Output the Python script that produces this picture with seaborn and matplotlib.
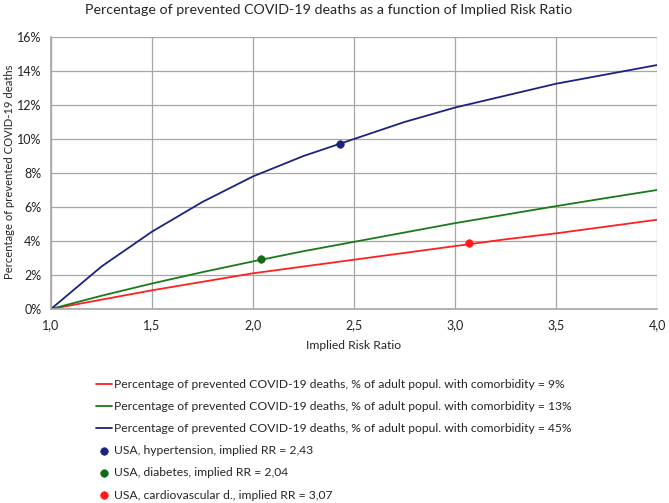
import matplotlib
matplotlib.use("Agg")
import matplotlib.pyplot as plt
import seaborn as sns
import pandas as pd
from matplotlib.ticker import FuncFormatter, MultipleLocator

# Data
rr = [1.0, 1.25, 1.5, 1.75, 2.0, 2.25, 2.5, 2.75, 3.0, 3.25, 3.5, 3.75, 4.0]
pct_9 = [0.0, 0.55, 1.1, 1.6, 2.1, 2.5, 2.9, 3.3, 3.7, 4.1, 4.45, 4.85, 5.25]
pct_13 = [0.0, 0.78, 1.5, 2.17, 2.8, 3.4, 3.95, 4.5, 5.05, 5.55, 6.05, 6.53, 7.0]
pct_45 = [0.0, 2.5, 4.55, 6.3, 7.8, 9.0, 10.0, 11.0, 11.85, 12.55, 13.25, 13.8, 14.35]

line_labels = [
    "Percentage of prevented COVID-19 deaths, % of adult popul. with comorbidity = 9%",
    "Percentage of prevented COVID-19 deaths, % of adult popul. with comorbidity = 13%",
    "Percentage of prevented COVID-19 deaths, % of adult popul. with comorbidity = 45%",
]
line_colors = ["#ff2020", "#1a7a1a", "#1a237e"]

point_labels = [
    "USA, hypertension, implied RR = 2,43",
    "USA, diabetes, implied RR = 2,04",
    "USA, cardiovascular d., implied RR = 3,07",
]
point_rr = [2.43, 2.04, 3.07]
point_pct = [9.7, 2.95, 3.9]
point_colors = ["#1a237e", "#0f6b1a", "#ff1a1a"]

sns.set_style("white")
plt.rcParams['font.family'] = ['Lato', 'DejaVu Sans']

fig = plt.figure(figsize=(6.69, 5.03), dpi=100)
ax = fig.add_axes([51/669, 1-309/503, (657-51)/669, (309-37)/503])

for vals, lab, col in zip([pct_9, pct_13, pct_45], line_labels, line_colors):
    df = pd.DataFrame({"rr": rr, "pct": vals})
    sns.lineplot(data=df, x="rr", y="pct", color=col, linewidth=1.3, ax=ax, label=lab)

for x, y, lab, col in zip(point_rr, point_pct, point_labels, point_colors):
    df = pd.DataFrame({"rr": [x], "pct": [y]})
    sns.scatterplot(data=df, x="rr", y="pct", color=col, s=30, edgecolor=col, ax=ax, label=lab, zorder=5)

ax.set_xlim(1.0, 4.0)
ax.set_ylim(0, 16)
ax.xaxis.set_major_locator(MultipleLocator(0.5))
ax.yaxis.set_major_locator(MultipleLocator(2))
ax.xaxis.set_major_formatter(FuncFormatter(lambda v, p: f"{v:.1f}".replace(".", ",")))
ax.yaxis.set_major_formatter(FuncFormatter(lambda v, p: f"{v:.0f}%"))
ax.grid(True, color="#a6a6a6", linewidth=0.9)
ax.set_axisbelow(True)
for s in ["top", "right"]:
    ax.spines[s].set_visible(False)
for s in ["left", "bottom"]:
    ax.spines[s].set_color("#a6a6a6")
    ax.spines[s].set_linewidth(1.2)
ax.tick_params(axis="both", length=0, labelsize=9, colors="#222222", pad=7)

ax.set_xlabel("Implied Risk Ratio", fontsize=8.7, labelpad=7)
ax.set_ylabel("Percentage of prevented COVID-19 deaths", fontsize=8.1)
ax.yaxis.set_label_coords((15-51)/606, (309-171.5)/272)
fig.text(329/669, 1-10/503, "Percentage of prevented COVID-19 deaths as a function of Implied Risk Ratio",
         ha="center", va="center", fontsize=10.3)

handles, labels = ax.get_legend_handles_labels()
ax.get_legend().remove()
fig.legend(handles, labels, loc="upper left", bbox_to_anchor=(96/669, 1-379/503),
           frameon=False, fontsize=8.7, handlelength=1.3, handletextpad=0.15,
           labelspacing=0.92, borderaxespad=0, borderpad=0)

fig.savefig("out.png", dpi=100)
